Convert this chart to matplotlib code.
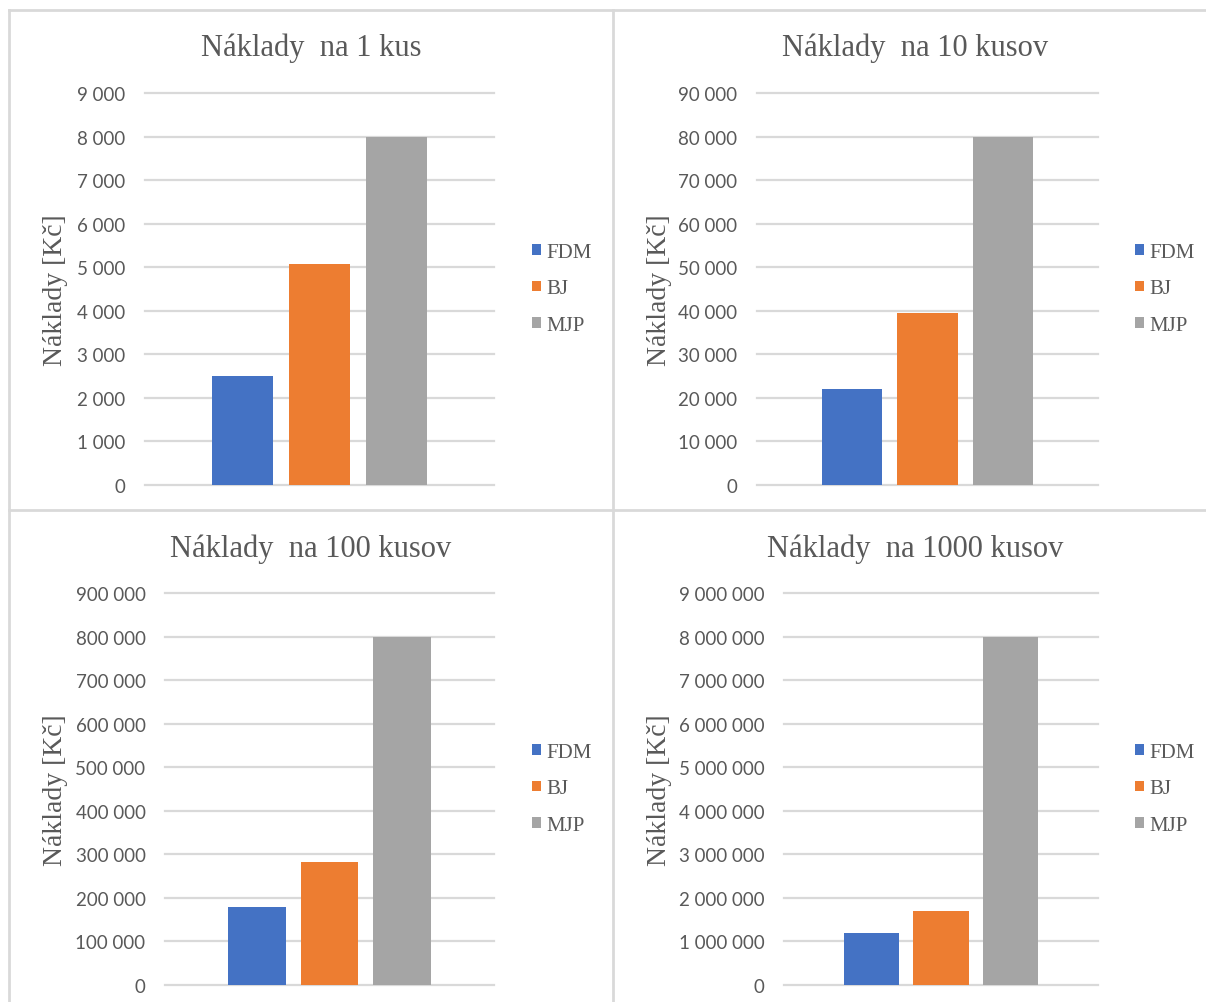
import matplotlib.pyplot as plt
from matplotlib.lines import Line2D
from matplotlib.ticker import FuncFormatter, MultipleLocator

# naklady na vyrobu podla poctu kusov
series = ['FDM', 'BJ', 'MJP']
titles = ['Náklady  na 1 kus', 'Náklady  na 10 kusov',
          'Náklady  na 100 kusov', 'Náklady  na 1000 kusov']
cost_1 = [2500, 5070, 8000]
cost_10 = [22000, 39500, 80000]
cost_100 = [180000, 283000, 800000]
cost_1000 = [1200000, 1700000, 8000000]
ymax_list = [9000, 90000, 900000, 9000000]

colors = ['#4472C4', '#ED7D31', '#A5A5A5']
txt_gray = '#595959'
grid_gray = '#D9D9D9'

W, H = 1206, 1003
fig = plt.figure(figsize=(W / 100.0, H / 100.0), dpi=100)

# pixel boxes: (left, right, top, bottom) of plot area, panel center x, label x, legend x
layout = [
  (145, 494, 94, 486, 311, 56, 532),
  (757, 1098, 94, 486, 915, 660, 1135),
  (165, 494, 594, 986, 311, 56, 532),
  (784, 1098, 594, 986, 915, 660, 1135),
]
title_y = [48, 48, 549, 549]

def fx(px):
  return px / float(W)

def fy(py):
  return 1.0 - py / float(H)

def thousands(v, pos):
  return '{:,}'.format(int(round(v))).replace(',', ' ')

def plot_panel(i, values):
  x0, x1, yt, yb, cx, lx, legx = layout[i]
  ax = fig.add_axes([fx(x0), fy(yb), fx(x1) - fx(x0), fy(yt) - fy(yb)])
  offs = [-0.221, 0.0, 0.221]
  for k in range(len(series)):
    ax.bar(offs[k], values[k], 0.176, color=colors[k], label=series[k], zorder=3)
  ax.set_xlim(-0.5, 0.5)
  ax.set_ylim(0, ymax_list[i])
  ax.yaxis.set_major_locator(MultipleLocator(ymax_list[i] / 9))
  ax.yaxis.set_major_formatter(FuncFormatter(thousands))
  ax.set_xticks([])
  ax.tick_params(axis='y', length=0, pad=14, labelsize=13.5, labelcolor=txt_gray)
  for lab in ax.get_yticklabels():
    lab.set_family('Lato')
  ax.grid(axis='y', color=grid_gray, linewidth=1.6, zorder=0)
  for gl in ax.get_ygridlines():
    gl.set_clip_on(False)
  for s in ax.spines.values():
    s.set_visible(False)

  fig.text(fx(cx), fy(title_y[i]), titles[i], ha='center', va='center',
           fontsize=22, color=txt_gray, family='Liberation Serif')
  fig.text(fx(lx), fy((yt + yb) / 2.0), 'Náklady [Kč]', ha='center', va='center',
           rotation=90, fontsize=20, color=txt_gray, family='Liberation Serif')

  leg = ax.legend(loc='center left', bbox_to_anchor=((legx - x0) / float(x1 - x0), 0.5),
                  frameon=False, handlelength=0.42, handleheight=0.42,
                  handletextpad=0.25, labelspacing=0.85, borderpad=0, borderaxespad=0,
                  prop={'family': 'Liberation Serif', 'size': 15})
  for t in leg.get_texts():
    t.set_color(txt_gray)
  return ax

for i, vals in enumerate([cost_1, cost_10, cost_100, cost_1000]):
  plot_panel(i, vals)

# chart frames
frame = dict(color=grid_gray, linewidth=2.0)
fig.add_artist(Line2D([fx(9), fx(W)], [fy(11), fy(11)], **frame))
fig.add_artist(Line2D([fx(9), fx(W)], [fy(511), fy(511)], **frame))
fig.add_artist(Line2D([fx(9), fx(9)], [fy(11), fy(H)], **frame))
fig.add_artist(Line2D([fx(613), fx(613)], [fy(11), fy(H)], **frame))

fig.savefig('out.png', dpi=100, facecolor='white')
